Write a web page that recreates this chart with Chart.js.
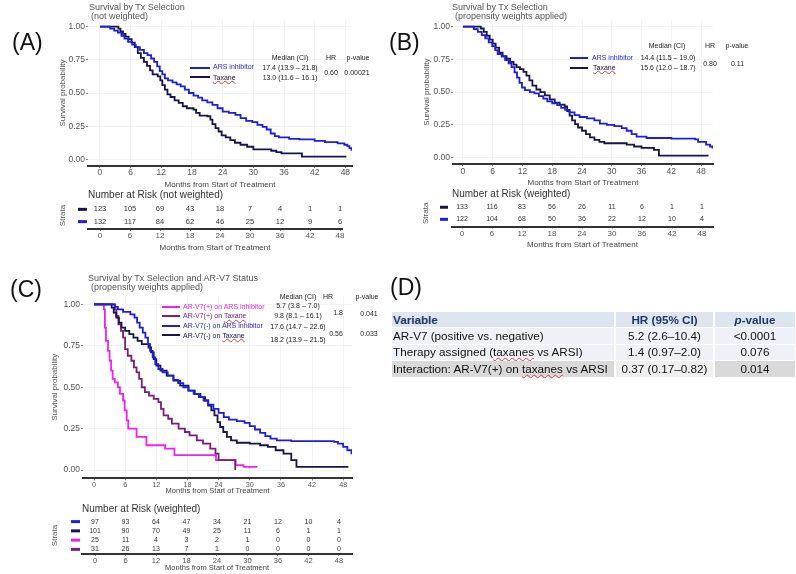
<!DOCTYPE html>
<html>
<head>
<meta charset="utf-8">
<script src="https://cdn.jsdelivr.net/npm/chart.js@4.4.1/dist/chart.umd.min.js"></script>
<style>
  body { margin: 0; background: #fff; }
  #page { position: relative; width: 796px; height: 574px; overflow: hidden;
          font-family: 'Liberation Sans', Arial, sans-serif; color: #222; }
  canvas { position: absolute; }
  .t { position: absolute; white-space: nowrap; line-height: 1; transform: translateY(-50%); }
  .c { transform: translate(-50%, -50%); }
  .lab { font-size: 23px; color: #111; }
  .ttl { font-size: 9px; color: #555; }
  .nar { font-size: 10px; color: #333; }
  .lg { font-size: 7px; color: #222; }
  .sq { text-decoration: underline wavy #e03a3a; text-decoration-thickness: 1px; text-underline-offset: 1px; }
  .ln { position: absolute; height: 2px; }
  .cell { position: absolute; font-size: 11.7px; line-height: 1; display: flex; align-items: center; white-space: nowrap; color: #111; }
  .hd { color: #1f3864; font-weight: bold; }
</style>
</head>
<body>
<div id="page">
  <canvas id="kmA" width="400" height="190" style="left:0;top:0"></canvas>
  <canvas id="riskA" width="400" height="53" style="left:0;top:200px"></canvas>
  <canvas id="kmB" width="396" height="188" style="left:400px;top:0"></canvas>
  <canvas id="riskB" width="396" height="52" style="left:400px;top:198px"></canvas>
  <canvas id="kmC" width="400" height="205" style="left:0;top:290px"></canvas>
  <canvas id="riskC" width="400" height="60" style="left:0;top:512px"></canvas>
</div>
<script>
// ---- data ----
const MONTHS = [0, 6, 12, 18, 24, 30, 36, 42, 48];
const SURV_TICKS = [0, 0.25, 0.5, 0.75, 1];

// (A) not weighted
const A_ARS_T = [0, 2.0, 2.8, 3.5, 4.2, 4.8, 5.5, 6.3, 7.0, 7.8, 8.6, 9.3, 10.0, 10.6, 11.2, 11.7, 12.2, 12.7, 13.3, 14.2, 15.0, 15.8, 16.6, 17.4, 18.3, 19.2, 20.0, 21.0, 22.0, 23.0, 24.0, 25.2, 26.5, 27.5, 28.6, 29.8, 30.8, 31.8, 32.6, 33.4, 34.2, 35.0, 37.0, 39.0, 42.0, 44.0, 46.5, 47.8, 48.4, 48.8, 49.2];
const A_ARS_S = [1, 0.985, 0.97, 0.955, 0.93, 0.91, 0.885, 0.865, 0.845, 0.825, 0.80, 0.785, 0.76, 0.735, 0.70, 0.665, 0.64, 0.61, 0.595, 0.58, 0.565, 0.55, 0.525, 0.50, 0.48, 0.465, 0.445, 0.43, 0.41, 0.385, 0.36, 0.35, 0.335, 0.31, 0.29, 0.28, 0.26, 0.245, 0.225, 0.195, 0.175, 0.165, 0.155, 0.15, 0.14, 0.13, 0.12, 0.11, 0.10, 0.085, 0.065];
const A_TAX_T = [0, 3.6, 4.0, 4.5, 5.0, 5.6, 6.2, 6.8, 7.4, 8.0, 8.6, 9.2, 9.8, 10.3, 11.3, 11.8, 12.2, 12.7, 13.2, 13.8, 14.6, 15.4, 16.2, 17.0, 18.3, 18.8, 19.5, 21.0, 21.6, 22.0, 22.6, 23.2, 23.8, 24.6, 25.5, 26.4, 27.5, 28.8, 30.0, 33.5, 34.5, 35.5, 39.5, 48.2];
const A_TAX_S = [1, 0.985, 0.965, 0.945, 0.925, 0.905, 0.88, 0.845, 0.80, 0.765, 0.735, 0.705, 0.67, 0.64, 0.625, 0.595, 0.56, 0.525, 0.49, 0.47, 0.445, 0.425, 0.40, 0.385, 0.375, 0.35, 0.33, 0.325, 0.30, 0.265, 0.235, 0.21, 0.18, 0.165, 0.145, 0.125, 0.11, 0.095, 0.075, 0.065, 0.055, 0.045, 0.02, 0.02];
const A_RISK_TAX = [123, 105, 69, 43, 18, 7, 4, 1, 1];
const A_RISK_ARS = [132, 117, 84, 62, 46, 25, 12, 9, 6];

// (B) propensity weighted
const B_ARS_T = [0, 2.2, 3.0, 3.8, 4.5, 5.2, 5.9, 6.5, 7.0, 7.8, 8.5, 9.2, 9.8, 10.4, 10.9, 11.4, 11.9, 12.5, 13.5, 14.4, 15.3, 16.2, 17.0, 18.0, 19.0, 19.8, 20.6, 21.5, 22.5, 23.5, 25.0, 26.5, 27.6, 29.0, 30.5, 32.0, 33.0, 34.0, 35.0, 37.0, 42.0, 46.8, 47.4, 49.0, 49.8, 50.3];
const B_ARS_S = [1, 0.98, 0.96, 0.935, 0.91, 0.88, 0.85, 0.82, 0.79, 0.77, 0.745, 0.72, 0.69, 0.65, 0.61, 0.57, 0.535, 0.515, 0.50, 0.49, 0.47, 0.45, 0.43, 0.415, 0.40, 0.38, 0.365, 0.345, 0.325, 0.31, 0.30, 0.285, 0.26, 0.25, 0.24, 0.225, 0.205, 0.18, 0.16, 0.15, 0.145, 0.14, 0.12, 0.10, 0.085, 0.07];
const B_TAX_T = [0, 3.6, 4.2, 4.8, 5.4, 6.0, 6.6, 7.3, 8.0, 8.8, 9.5, 10.2, 10.8, 11.5, 12.2, 12.8, 13.4, 14.0, 14.8, 15.6, 16.5, 17.5, 18.5, 19.5, 20.5, 21.0, 21.5, 22.0, 22.6, 23.2, 24.0, 24.8, 25.6, 26.5, 27.5, 28.5, 33.0, 34.5, 36.0, 38.5, 39.5, 49.5];
const B_TAX_S = [1, 0.985, 0.96, 0.93, 0.90, 0.87, 0.84, 0.80, 0.775, 0.755, 0.73, 0.71, 0.69, 0.675, 0.655, 0.625, 0.59, 0.55, 0.52, 0.50, 0.475, 0.445, 0.42, 0.405, 0.39, 0.355, 0.32, 0.285, 0.255, 0.23, 0.205, 0.18, 0.155, 0.135, 0.12, 0.11, 0.10, 0.085, 0.075, 0.06, 0.015, 0.015];
const B_RISK_TAX = [133, 116, 83, 56, 26, 11, 6, 1, 1];
const B_RISK_ARS = [122, 104, 68, 50, 36, 22, 12, 10, 4];

// (C) by AR-V7 status, weighted
const C_POS_ARS_T = [0, 1.9, 2.1, 2.3, 2.7, 3.0, 3.3, 3.6, 4.0, 4.6, 5.0, 5.6, 5.9, 6.3, 6.6, 8.2, 10.1, 13.7, 15.5, 23.5, 27.3, 28.8, 31.5];
const C_POS_ARS_S = [1, 0.97, 0.86, 0.78, 0.72, 0.66, 0.60, 0.55, 0.53, 0.50, 0.46, 0.42, 0.36, 0.30, 0.25, 0.20, 0.15, 0.13, 0.09, 0.06, 0.03, 0.02, 0.02];
const C_POS_TAX_T = [0, 4.0, 4.3, 4.7, 5.2, 5.6, 6.0, 6.5, 7.2, 7.7, 8.2, 8.7, 9.2, 9.8, 10.6, 11.5, 12.4, 12.9, 13.4, 14.3, 15.0, 16.3, 17.5, 18.4, 19.8, 21.0, 22.4, 23.4, 24.0, 27.2];
const C_POS_TAX_S = [1, 0.97, 0.93, 0.88, 0.84, 0.80, 0.73, 0.69, 0.66, 0.62, 0.59, 0.55, 0.50, 0.47, 0.45, 0.43, 0.41, 0.37, 0.33, 0.31, 0.28, 0.25, 0.23, 0.21, 0.18, 0.16, 0.13, 0.10, 0.06, 0];
const C_NEG_ARS_T = [0, 4.0, 4.6, 5.6, 7.0, 7.8, 8.3, 8.8, 9.4, 9.9, 10.4, 10.8, 11.3, 11.8, 12.4, 13.2, 14.2, 15.3, 16.2, 17.2, 18.2, 19.2, 20.2, 21.1, 22.0, 23.0, 24.0, 25.0, 26.0, 27.5, 29.0, 30.0, 31.0, 32.0, 33.0, 34.0, 35.2, 38.0, 46.2, 47.0, 48.0, 48.8, 49.6];
const C_NEG_ARS_S = [1, 0.985, 0.97, 0.955, 0.94, 0.92, 0.89, 0.86, 0.83, 0.80, 0.76, 0.72, 0.68, 0.64, 0.61, 0.59, 0.57, 0.545, 0.525, 0.50, 0.48, 0.46, 0.44, 0.42, 0.395, 0.37, 0.345, 0.32, 0.305, 0.295, 0.285, 0.265, 0.245, 0.225, 0.205, 0.19, 0.18, 0.175, 0.17, 0.16, 0.14, 0.12, 0.095];
const C_NEG_TAX_T = [0, 3.4, 3.8, 4.3, 4.8, 5.3, 6.0, 6.8, 7.6, 8.4, 9.2, 10.5, 11.0, 11.5, 12.0, 12.8, 14.0, 15.3, 16.6, 18.2, 19.4, 20.5, 21.4, 22.0, 22.6, 23.2, 23.8, 24.3, 24.9, 25.6, 26.4, 27.5, 30.0, 32.0, 33.5, 35.0, 36.5, 38.0, 39.0, 49.0];
const C_NEG_TAX_S = [1, 0.98, 0.95, 0.92, 0.89, 0.86, 0.84, 0.82, 0.80, 0.78, 0.76, 0.74, 0.71, 0.67, 0.63, 0.60, 0.57, 0.54, 0.51, 0.48, 0.46, 0.44, 0.42, 0.39, 0.36, 0.33, 0.29, 0.26, 0.23, 0.20, 0.18, 0.165, 0.16, 0.15, 0.14, 0.12, 0.10, 0.06, 0.02, 0.02];
const C_RISK_NEG_ARS = [97, 93, 64, 47, 34, 21, 12, 10, 4];
const C_RISK_NEG_TAX = [101, 90, 70, 49, 25, 11, 6, 1, 1];
const C_RISK_POS_ARS = [25, 11, 4, 3, 2, 1, 0, 0, 0];
const C_RISK_POS_TAX = [31, 26, 13, 7, 1, 0, 0, 0, 0];

const BLUE = '#1e1ee0', NAVY = '#16164f', MAGENTA = '#ee22ee', PURPLE = '#7a1f78';
const FONT = "'Liberation Sans', Arial, sans-serif";
Chart.defaults.font.family = FONT;
Chart.defaults.color = '#555';

function kmChart(id, box, curves) {
  return new Chart(document.getElementById(id), {
    type: 'line',
    data: {
      datasets: curves.map(c => ({
        data: c.t.map((t, i) => ({ x: t, y: c.s[i] })),
        borderColor: c.color, borderWidth: 1.8, stepped: true,
        pointRadius: 0, fill: false
      }))
    },
    options: {
      responsive: false, animation: false, events: [],
      layout: { padding: box.pad },
      plugins: { legend: { display: false }, tooltip: { enabled: false } },
      scales: {
        x: {
          type: 'linear', min: box.xmin, max: box.xmax,
          afterBuildTicks: s => { s.ticks = MONTHS.map(v => ({ value: v })); },
          afterFit: s => { s.height = box.xh; },
          grid: { color: '#f3f3f3', tickColor: '#888', tickLength: 2 },
          border: { color: '#333', width: 2 },
          ticks: { font: { size: box.tick }, color: '#555', padding: 0, maxRotation: 0, autoSkip: false },
          title: { display: true, text: 'Months from Start of Treatment', font: { size: box.xt }, color: '#444', padding: 0 }
        },
        y: {
          min: -0.05, max: 1.05,
          afterBuildTicks: s => { s.ticks = SURV_TICKS.map(v => ({ value: v })); },
          afterFit: s => { s.width = box.yw; },
          grid: { color: '#f3f3f3', tickColor: '#888', tickLength: 2 },
          border: { display: false },
          ticks: { font: { size: 8.5 }, color: '#555', padding: 1, callback: v => Number(v).toFixed(2) },
          title: { display: true, text: 'Survival probability', font: { size: 8 }, color: '#555', padding: 0 }
        }
      }
    }
  });
}

// number-at-risk table drawn on the same kind of month scale
function riskChart(id, box, rows) {
  const pts = [];
  rows.forEach((r, i) => r.n.forEach((v, j) => pts.push({ x: MONTHS[j], y: i, v: v })));
  return new Chart(document.getElementById(id), {
    type: 'scatter',
    data: { datasets: [{ data: pts, pointRadius: 0 }] },
    options: {
      responsive: false, animation: false, events: [],
      layout: { padding: box.pad },
      plugins: { legend: { display: false }, tooltip: { enabled: false } },
      scales: {
        x: {
          type: 'linear', min: box.xmin, max: box.xmax,
          afterBuildTicks: s => { s.ticks = MONTHS.map(v => ({ value: v })); },
          afterFit: s => { s.height = box.xh; },
          grid: { drawOnChartArea: false, tickColor: '#888', tickLength: 2 },
          border: { color: '#333', width: 2 },
          ticks: { font: { size: box.xt }, color: '#555', padding: 0, maxRotation: 0, autoSkip: false },
          title: { display: true, text: 'Months from Start of Treatment', font: { size: box.xt }, color: '#444', padding: 0 }
        },
        y: {
          type: 'linear', min: -box.edge, max: rows.length - 1 + box.edge, reverse: true,
          afterFit: s => { s.width = box.yw; },
          ticks: { display: false }, grid: { display: false }, border: { display: false },
          title: { display: true, text: 'Strata', font: { size: 8 }, color: '#555', padding: 0 }
        }
      }
    },
    plugins: [{
      id: 'riskText',
      afterDatasetsDraw(chart) {
        const ctx = chart.ctx, meta = chart.getDatasetMeta(0), ys = chart.scales.y;
        ctx.save();
        ctx.font = box.num + 'px ' + FONT;
        ctx.fillStyle = '#333';
        ctx.textAlign = 'center';
        ctx.textBaseline = 'middle';
        meta.data.forEach((el, k) => ctx.fillText(String(pts[k].v), el.x, el.y));
        rows.forEach((r, i) => {
          ctx.fillStyle = r.color;
          ctx.fillRect(box.dash[0], ys.getPixelForValue(i) - 1.5, box.dash[1] - box.dash[0], 3);
        });
        ctx.restore();
      }
    }]
  });
}

kmChart('kmA', { pad: { left: 58, right: 48, top: 20, bottom: 0 }, yw: 30, xh: 24, xmin: -2.34, xmax: 49.3, tick: 8.5, xt: 8 }, [
  { t: A_ARS_T, s: A_ARS_S, color: BLUE },
  { t: A_TAX_T, s: A_TAX_S, color: NAVY }
]);
riskChart('riskA', { pad: { left: 58, right: 58, top: 2, bottom: 0 }, yw: 30, xh: 24, xmin: -2.4, xmax: 48.4, edge: 0.6, num: 7.5, xt: 8, dash: [78, 87] }, [
  { n: A_RISK_TAX, color: NAVY },
  { n: A_RISK_ARS, color: BLUE }
]);
kmChart('kmB', { pad: { left: 22, right: 83, top: 20, bottom: 0 }, yw: 31, xh: 23.8, xmin: -2.0, xmax: 50.4, tick: 8.5, xt: 8 }, [
  { t: B_ARS_T, s: B_ARS_S, color: BLUE },
  { t: B_TAX_T, s: B_TAX_S, color: NAVY }
]);
riskChart('riskB', { pad: { left: 21, right: 83, top: 2, bottom: 0 }, yw: 31, xh: 23.4, xmin: -2.0, xmax: 50.2, edge: 0.6, num: 7, xt: 8, dash: [40, 48] }, [
  { n: B_RISK_TAX, color: NAVY },
  { n: B_RISK_ARS, color: BLUE }
]);
kmChart('kmC', { pad: { left: 50, right: 48, top: 4.6, bottom: 0 }, yw: 33, xh: 16.6, xmin: -2.12, xmax: 49.7, tick: 7.2, xt: 7.5 }, [
  { t: C_NEG_ARS_T, s: C_NEG_ARS_S, color: BLUE },
  { t: C_NEG_TAX_T, s: C_NEG_TAX_S, color: NAVY },
  { t: C_POS_TAX_T, s: C_POS_TAX_S, color: PURPLE },
  { t: C_POS_ARS_T, s: C_POS_ARS_S, color: MAGENTA }
]);
riskChart('riskC', { pad: { left: 50, right: 48, top: 5, bottom: 0 }, yw: 32, xh: 18, xmin: -2.56, xmax: 50.56, edge: 0.5, num: 7, xt: 7.5, dash: [71, 80] }, [
  { n: C_RISK_NEG_ARS, color: BLUE },
  { n: C_RISK_NEG_TAX, color: NAVY },
  { n: C_RISK_POS_ARS, color: MAGENTA },
  { n: C_RISK_POS_TAX, color: PURPLE }
]);

// ---- text overlays ----
const page = document.getElementById('page');
function txt(x, y, s, cls, color) {
  const d = document.createElement('div');
  d.className = 't ' + (cls || '');
  d.style.left = x + 'px';
  d.style.top = y + 'px';
  if (color) d.style.color = color;
  d.innerHTML = s;
  page.appendChild(d);
}
function seg(x1, x2, y, color) {
  const d = document.createElement('div');
  d.className = 'ln';
  d.style.cssText += `left:${x1}px;top:${y - 1}px;width:${x2 - x1}px;background:${color}`;
  page.appendChild(d);
}

txt(12, 41.5, '(A)', 'lab');
txt(389, 42, '(B)', 'lab');
txt(10, 289, '(C)', 'lab');
txt(390, 287, '(D)', 'lab');

txt(89, 6.5, 'Survival by Tx Selection', 'ttl');
txt(91, 16, '(not weighted)', 'ttl');
txt(452, 6.5, 'Survival by Tx Selection', 'ttl');
txt(455, 16, '(propensity weights applied)', 'ttl');
txt(88, 277.5, 'Survival by Tx Selection and AR-V7 Status', 'ttl');
txt(91, 287, '(propensity weights applied)', 'ttl');

txt(88, 195, 'Number at Risk (not weighted)', 'nar');
txt(452, 194, 'Number at Risk (weighted)', 'nar');
txt(82, 509, 'Number at Risk (weighted)', 'nar');

// legend A
seg(190, 210, 68, BLUE); seg(190, 210, 77, NAVY);
txt(213, 66, 'ARS inhibitor', 'lg', BLUE);
txt(213, 76.5, '<span class="sq">Taxane</span>', 'lg', NAVY);
txt(290, 57, 'Median (CI)', 'lg c');
txt(290, 66.5, '17.4 (13.9 – 21.8)', 'lg c');
txt(290, 77, '13.0 (11.6 – 16.1)', 'lg c');
txt(331, 57, 'HR', 'lg c');
txt(331, 72, '0.60', 'lg c');
txt(358, 57, 'p-value', 'lg c');
txt(357, 72, '0.00021', 'lg c');

// legend B
seg(570, 588, 57.5, BLUE); seg(570, 588, 67.5, NAVY);
txt(592, 56.7, 'ARS inhibitor', 'lg', BLUE);
txt(593, 66.7, '<span class="sq">Taxane</span>', 'lg', NAVY);
txt(667, 45, 'Median (CI)', 'lg c');
txt(668, 57.3, '14.4 (11.5 – 19.0)', 'lg c');
txt(668, 67.3, '15.6 (12.0 – 18.7)', 'lg c');
txt(710, 45, 'HR', 'lg c');
txt(710, 63, '0.80', 'lg c');
txt(737, 45, 'p-value', 'lg c');
txt(737.5, 63, '0.11', 'lg c');

// legend C
seg(162, 180, 307, MAGENTA); seg(162, 180, 316, PURPLE);
seg(162, 180, 325.5, BLUE); seg(162, 180, 335, NAVY);
txt(183, 306, 'AR-V7(+) on ARS inhibitor', 'lg', MAGENTA);
txt(183, 315, 'AR-V7(+) on <span class="sq">Taxane</span>', 'lg', PURPLE);
txt(183, 325, 'AR-V7(-) on ARS inhibitor', 'lg', BLUE);
txt(183, 334.5, 'AR-V7(-) on <span class="sq">Taxane</span>', 'lg', NAVY);
txt(298, 296, 'Median (CI)', 'lg c');
txt(298, 305, '5.7 (3.8 – 7.0)', 'lg c');
txt(298, 315, '9.8 (8.1 – 16.1)', 'lg c');
txt(298, 326, '17.6 (14.7 – 22.6)', 'lg c');
txt(298, 338.5, '18.2 (13.9 – 21.5)', 'lg c');
txt(328, 296, 'HR', 'lg c');
txt(338, 312, '1.8', 'lg c');
txt(336, 333, '0.56', 'lg c');
txt(367, 296, 'p-value', 'lg c');
txt(369, 312.5, '0.041', 'lg c');
txt(369, 333, '0.033', 'lg c');

// ---- (D) table ----
const COLS = [{ x: 392, w: 222, align: 'left' }, { x: 616, w: 97, align: 'center' }, { x: 715, w: 80, align: 'center' }];
const ROWS = [
  { y: 312, h: 15, bg: ['#dde5f0', '#dde5f0', '#dde5f0'], cells: ['Variable', 'HR (95% CI)', '<i>p</i>-value'], head: true },
  { y: 328, h: 15.5, bg: ['#eef2f8', '#eef2f8', '#eef2f8'], cells: ['AR-V7 (positive vs. negative)', '5.2 (2.6–10.4)', '&lt;0.0001'] },
  { y: 344.5, h: 15.5, bg: ['#eef2f8', '#eef2f8', '#eef2f8'], cells: ['Therapy assigned (<span class="sq">taxanes</span> vs ARSI)', '1.4 (0.97–2.0)', '0.076'] },
  { y: 361, h: 16, bg: ['#d9d9d9', '#efefef', '#d9d9d9'], cells: ['Interaction: AR-V7(+) on <span class="sq">taxanes</span> vs ARSI', '0.37 (0.17–0.82)', '0.014'] }
];
ROWS.forEach(r => {
  COLS.forEach((c, j) => {
    const d = document.createElement('div');
    d.className = 'cell' + (r.head ? ' hd' : '');
    d.style.cssText += `left:${c.x}px;top:${r.y}px;width:${c.w}px;height:${r.h}px;background:${r.bg[j]};` +
      `justify-content:${c.align === 'left' ? 'flex-start' : 'center'};padding-left:${c.align === 'left' ? 1 : 0}px;box-sizing:border-box`;
    d.innerHTML = '<span>' + r.cells[j] + '</span>';
    page.appendChild(d);
  });
});
</script>
</body>
</html>
